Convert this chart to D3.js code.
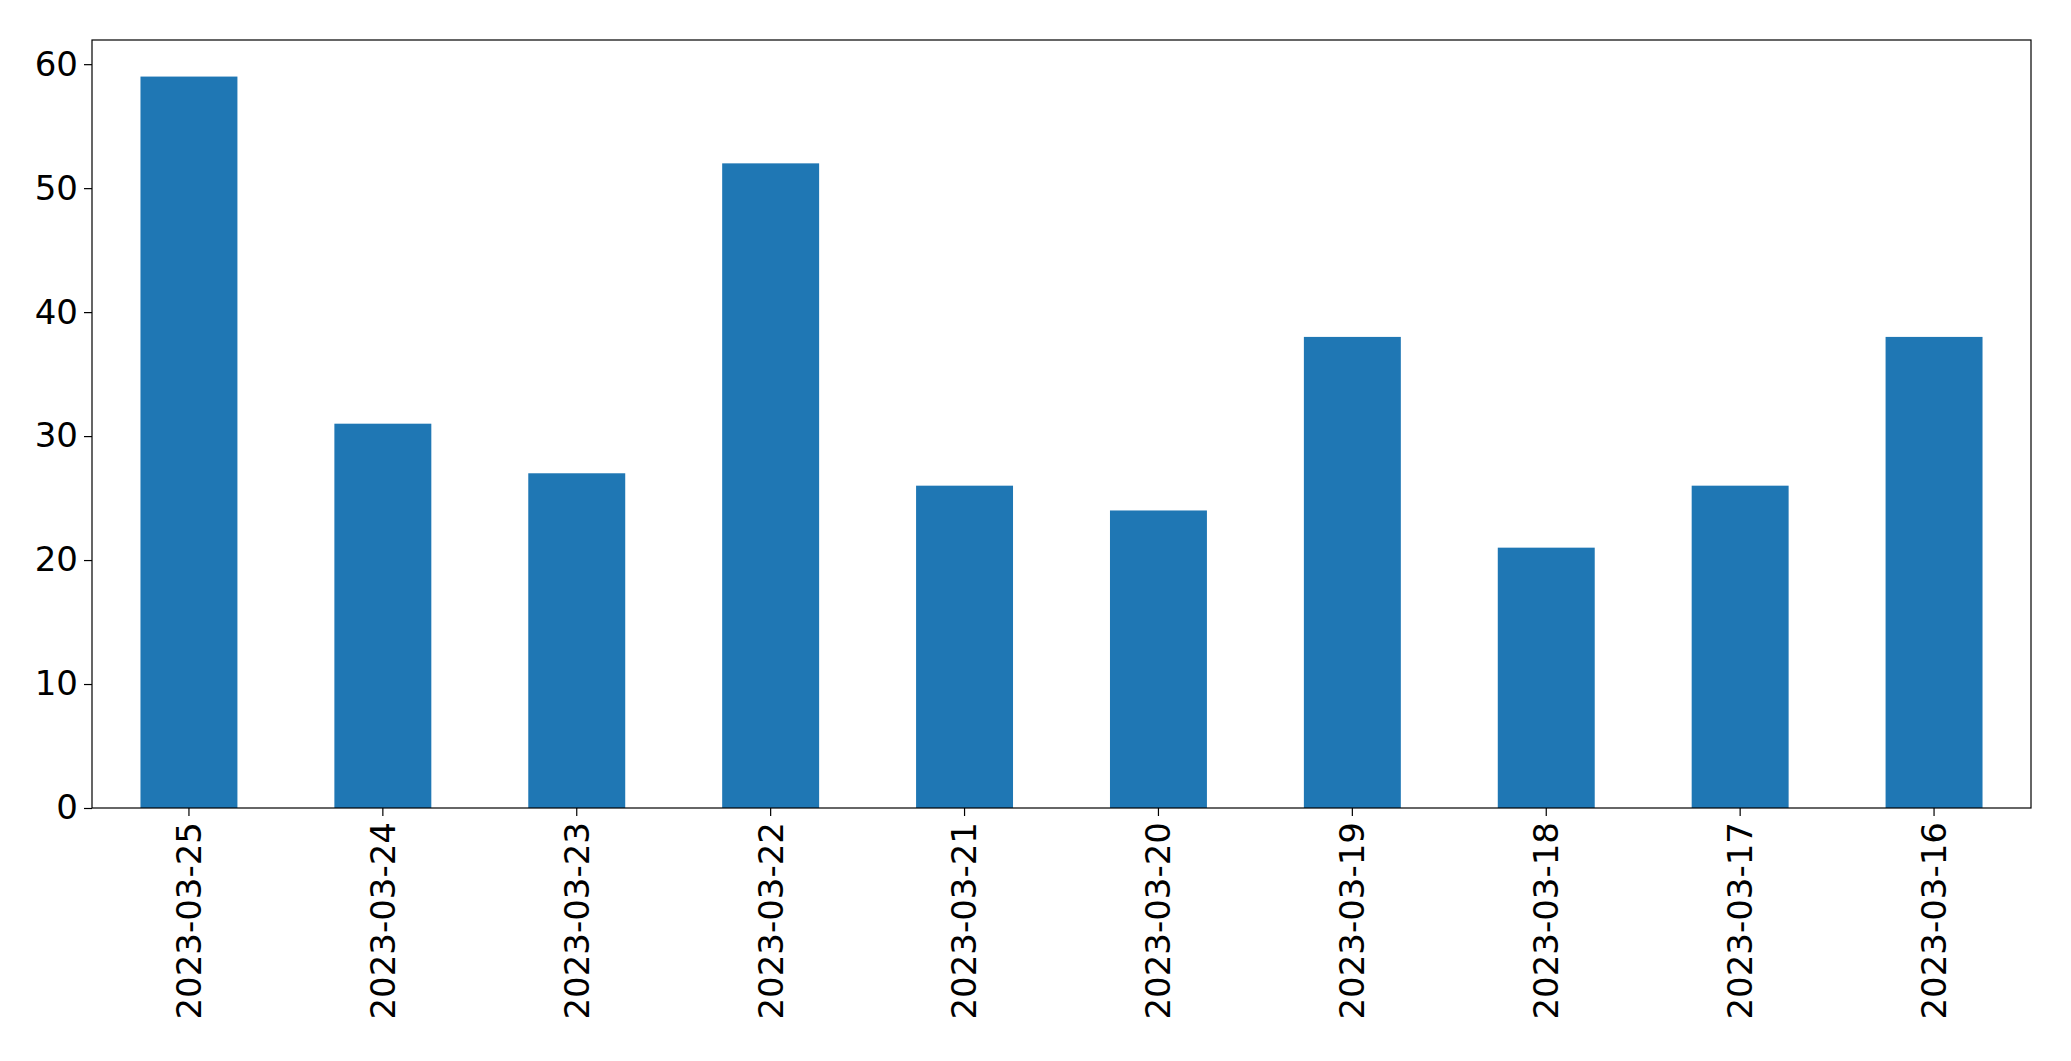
<!DOCTYPE html>
<html>
<head>
<meta charset="utf-8">
<script src="https://cdn.jsdelivr.net/npm/d3@7"></script>
<style>
  body { margin: 0; background: #fff; }
</style>
</head>
<body>
<div id="wrapper"></div>
<script>
const dates = ['2023-03-25', '2023-03-24', '2023-03-23', '2023-03-22', '2023-03-21',
    '2023-03-20', '2023-03-19', '2023-03-18', '2023-03-17', '2023-03-16']
const counts = [59, 31, 27, 52, 26, 24, 38, 21, 26, 38]
const yTicks = [0, 10, 20, 30, 40, 50, 60]

const dimensions = {
    width: 2071,
    height: 1061,
    margins: { top: 40, right: 40, bottom: 253, left: 92 }
}
dimensions.boundedWidth = dimensions.width - dimensions.margins.left - dimensions.margins.right
dimensions.boundedHeight = dimensions.height - dimensions.margins.top - dimensions.margins.bottom

const svg = d3.select('#wrapper').append('svg')
    .attr('width', dimensions.width)
    .attr('height', dimensions.height)

const bounds = svg.append('g')
    .attr('transform', `translate(${dimensions.margins.left},${dimensions.margins.top})`)

const xScale = d3.scaleBand()
    .domain(dates)
    .range([0, dimensions.boundedWidth])
    .paddingInner(0.5)
    .paddingOuter(0.25)

const yScale = d3.scaleLinear()
    .domain([0, 61.95])
    .range([dimensions.boundedHeight, 0])

bounds.selectAll('rect.bar')
    .data(dates)
    .join('rect')
    .attr('class', 'bar')
    .attr('x', d => xScale(d))
    .attr('y', (d, i) => yScale(counts[i]))
    .attr('width', xScale.bandwidth())
    .attr('height', (d, i) => dimensions.boundedHeight - yScale(counts[i]))
    .attr('fill', '#1f77b4')

bounds.append('rect')
    .attr('width', dimensions.boundedWidth)
    .attr('height', dimensions.boundedHeight)
    .attr('fill', 'none')
    .attr('stroke', '#000')
    .attr('stroke-width', 1.2)

const yAxis = bounds.append('g')
    .call(d3.axisLeft(yScale).tickValues(yTicks).tickSize(8).tickPadding(6))
yAxis.select('.domain').remove()

const xAxis = bounds.append('g')
    .attr('transform', `translate(0,${dimensions.boundedHeight})`)
    .call(d3.axisBottom(xScale).tickSize(8).tickPadding(6))
xAxis.select('.domain').remove()
xAxis.selectAll('text')
    .attr('transform', 'rotate(-90)')
    .attr('text-anchor', 'end')
    .attr('dy', '0.35em')
    .attr('x', -14)
    .attr('y', 0)

svg.selectAll('.tick text')
    .style('font-family', '"DejaVu Sans", sans-serif')
    .style('font-size', '34px')
    .attr('fill', '#000')
svg.selectAll('.tick line').attr('stroke', '#000').attr('stroke-width', 1.2)
</script>
</body>
</html>
